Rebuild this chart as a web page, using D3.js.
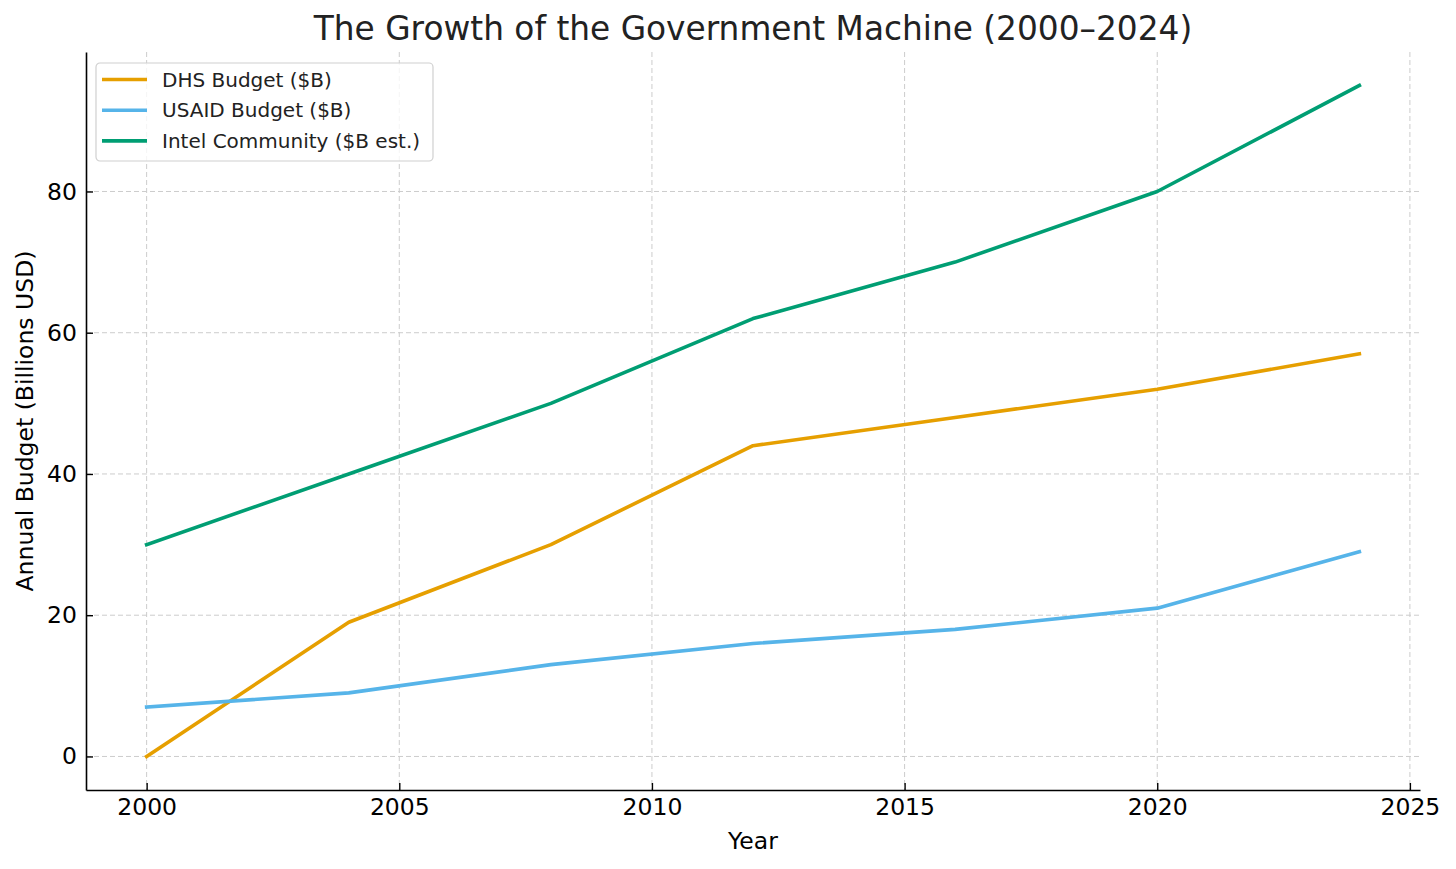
<!DOCTYPE html>
<html>
<head>
<meta charset="utf-8">
<script src="https://cdn.jsdelivr.net/npm/d3@7"></script>
<style>
  html, body { margin: 0; padding: 0; background: #fff; }
  svg { display: block; font-family: "DejaVu Sans", sans-serif; }
</style>
</head>
<body>
<div id="chart"></div>
<script>
// data
const years = [2000, 2004, 2008, 2012, 2016, 2020, 2024];
const dhsBudget = [0, 19, 30, 44, 48, 52, 57];
const usaidBudget = [7, 9, 13, 16, 18, 21, 29];
const intelBudget = [30, 40, 50, 62, 70, 80, 95];
const seriesNames = ['DHS Budget ($B)', 'USAID Budget ($B)', 'Intel Community ($B est.)'];
const seriesColors = ['#E69F00', '#56B4E9', '#009E73'];
const xTicks = [2000, 2005, 2010, 2015, 2020, 2025];
const yTicks = [0, 20, 40, 60, 80];

const width = 1456, height = 869;
const margin = { left: 86, right: 36, top: 52, bottom: 79 };

const series = [dhsBudget, usaidBudget, intelBudget].map((vals, i) => ({
  name: seriesNames[i], color: seriesColors[i],
  points: years.map((y, j) => ({ year: y, value: vals[j] }))
}));

const svg = d3.select('#chart').append('svg').attr('width', width).attr('height', height);

// matplotlib style 5% margins
const xPad = (d3.max(years) - d3.min(years)) * 0.05;
const allVals = dhsBudget.concat(usaidBudget, intelBudget);
const yPad = (d3.max(allVals) - d3.min(allVals)) * 0.05;

const x = d3.scaleLinear()
  .domain([d3.min(years) - xPad, d3.max(years) + xPad])
  .range([margin.left, width - margin.right]);
const y = d3.scaleLinear()
  .domain([d3.min(allVals) - yPad, d3.max(allVals) + yPad])
  .range([height - margin.bottom, margin.top]);

// grid
const grid = svg.append('g');
grid.selectAll('.gx').data(xTicks).enter().append('line')
  .attr('x1', d => x(d)).attr('x2', d => x(d))
  .attr('y1', margin.top).attr('y2', height - margin.bottom)
  .attr('stroke', '#cccccc').attr('stroke-width', 1).attr('stroke-dasharray', '5,3');
grid.selectAll('.gy').data(yTicks).enter().append('line')
  .attr('x1', margin.left).attr('x2', width - margin.right)
  .attr('y1', d => y(d)).attr('y2', d => y(d))
  .attr('stroke', '#cccccc').attr('stroke-width', 1).attr('stroke-dasharray', '5,3');

// lines
const line = d3.line().x(d => x(d.year)).y(d => y(d.value));
svg.selectAll('.series').data(series).enter().append('path')
  .attr('d', d => line(d.points))
  .attr('fill', 'none').attr('stroke', d => d.color).attr('stroke-width', 3.6)
  .attr('stroke-linejoin', 'round').attr('stroke-linecap', 'square');

// axes, ticks pointing inward
const xAxis = svg.append('g').attr('transform', `translate(0,${height - margin.bottom})`)
  .call(d3.axisBottom(x).tickValues(xTicks).tickFormat(d3.format('d')).tickSize(-7).tickPadding(8).tickSizeOuter(0));
const yAxis = svg.append('g').attr('transform', `translate(${margin.left},0)`)
  .call(d3.axisLeft(y).tickValues(yTicks).tickSize(-7).tickPadding(9).tickSizeOuter(0));
[xAxis, yAxis].forEach(a => {
  a.select('.domain').attr('stroke', '#000').attr('stroke-width', 1.6);
  a.selectAll('.tick line').attr('stroke', '#000').attr('stroke-width', 1.4);
  a.selectAll('.tick text').attr('font-size', 23.5).attr('fill', '#000')
    .attr('font-family', '"DejaVu Sans", sans-serif');
});

// labels
svg.append('text').attr('x', (margin.left + width - margin.right) / 2).attr('y', 40)
  .attr('text-anchor', 'middle').attr('font-size', 32.8).attr('fill', '#222')
  .text('The Growth of the Government Machine (2000–2024)');
svg.append('text').attr('x', (margin.left + width - margin.right) / 2).attr('y', 849)
  .attr('text-anchor', 'middle').attr('font-size', 23.5).attr('fill', '#000').text('Year');
svg.append('text')
  .attr('transform', `translate(33,${(margin.top + height - margin.bottom) / 2}) rotate(-90)`)
  .attr('text-anchor', 'middle').attr('font-size', 23.5).attr('fill', '#000')
  .text('Annual Budget (Billions USD)');

// legend
const legend = svg.append('g').attr('transform', 'translate(96,63)');
legend.append('rect').attr('width', 337).attr('height', 98).attr('rx', 4)
  .attr('fill', '#fff').attr('fill-opacity', 0.8).attr('stroke', '#d0d0d0').attr('stroke-width', 1.2);
const items = legend.selectAll('.item').data(series).enter().append('g')
  .attr('transform', (d, i) => `translate(0,${16.5 + i * 30.7})`);
items.append('line').attr('x1', 6).attr('x2', 51).attr('y1', 0).attr('y2', 0)
  .attr('stroke', d => d.color).attr('stroke-width', 3.6);
items.append('text').attr('x', 66).attr('y', 7).attr('font-size', 20).attr('fill', '#222')
  .text(d => d.name);
</script>
</body>
</html>
